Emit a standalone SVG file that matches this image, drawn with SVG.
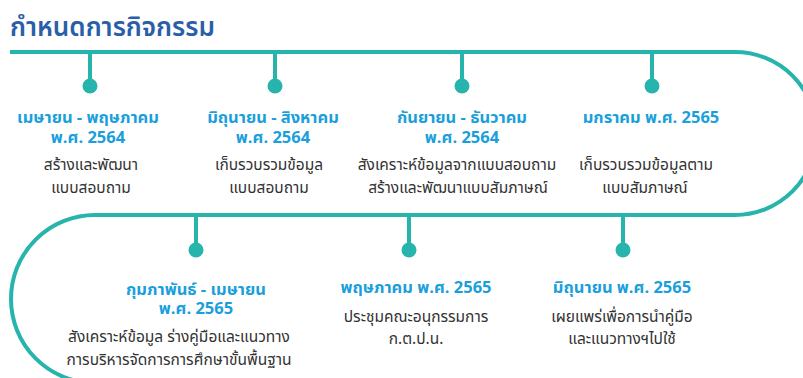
<svg xmlns="http://www.w3.org/2000/svg" width="803" height="378" viewBox="0 0 803 378">
<style>
.ln{fill:none;stroke:#27b4ac;stroke-width:4}
.dot{fill:#27b4ac}
.stem{stroke:#27b4ac;stroke-width:4}
.t{font-family:"Noto Sans Thai","Noto Sans","Liberation Sans",sans-serif;text-anchor:middle}
.d{font-size:16.5px;font-weight:bold;fill:#1a9fdc}
.b{font-size:15.5px;fill:#333333}
.title{font-family:"Noto Sans Thai","Noto Sans","Liberation Sans",sans-serif;font-size:26px;fill:#2b5ea8;font-weight:600}
</style>
<rect width="803" height="378" fill="#ffffff"/>
<text class="title" x="10" y="36">กำหนดการกิจกรรม</text>
<g id="connectors">
<path class="ln" d="M10 52 H735 A81.5 81.5 0 0 1 735 215 H95 A84 84 0 0 0 95 383 H803"/>
</g>
<g id="n1">
<line class="stem" x1="90" y1="52" x2="90" y2="86"/><circle class="dot" cx="90" cy="86" r="7.5"/>
<text class="t d" x="88" y="123">เมษายน - พฤษภาคม<tspan x="88" dy="20">พ.ศ. 2564</tspan></text>
<text class="t b" x="91" y="170">สร้างและพัฒนา<tspan x="91" dy="23">แบบสอบถาม</tspan></text>
</g>
<g id="n2">
<line class="stem" x1="275" y1="52" x2="275" y2="86"/><circle class="dot" cx="275" cy="86" r="7.5"/>
<text class="t d" x="273" y="123">มิถุนายน - สิงหาคม<tspan x="273" dy="20">พ.ศ. 2564</tspan></text>
<text class="t b" x="269" y="170">เก็บรวบรวมข้อมูล<tspan x="269" dy="23">แบบสอบถาม</tspan></text>
</g>
<g id="n3">
<line class="stem" x1="462" y1="52" x2="462" y2="86"/><circle class="dot" cx="462" cy="86" r="7.5"/>
<text class="t d" x="462" y="123">กันยายน - ธันวาคม<tspan x="462" dy="20">พ.ศ. 2564</tspan></text>
<text class="t b" x="457" y="170">สังเคราะห์ข้อมูลจากแบบสอบถาม<tspan x="458" dy="23">สร้างและพัฒนาแบบสัมภาษณ์</tspan></text>
</g>
<g id="n4">
<line class="stem" x1="652" y1="52" x2="652" y2="86"/><circle class="dot" cx="652" cy="86" r="7.5"/>
<text class="t d" x="651" y="123">มกราคม พ.ศ. 2565</text>
<text class="t b" x="646" y="170">เก็บรวบรวมข้อมูลตาม<tspan x="645" dy="23">แบบสัมภาษณ์</tspan></text>
</g>
<g id="n5">
<line class="stem" x1="196" y1="215" x2="196" y2="250"/><circle class="dot" cx="196" cy="250" r="7.5"/>
<text class="t d" x="196" y="295">กุมภาพันธ์ - เมษายน<tspan x="196" dy="19">พ.ศ. 2565</tspan></text>
<text class="t b" x="179" y="342">สังเคราะห์ข้อมูล ร่างคู่มือและแนวทาง<tspan x="179" dy="23">การบริหารจัดการการศึกษาขั้นพื้นฐาน</tspan></text>
</g>
<g id="n6">
<line class="stem" x1="409" y1="215" x2="409" y2="250"/><circle class="dot" cx="409" cy="250" r="7.5"/>
<text class="t d" x="416" y="293">พฤษภาคม พ.ศ. 2565</text>
<text class="t b" x="416" y="322">ประชุมคณะอนุกรรมการ<tspan x="416" dy="22">ก.ต.ป.น.</tspan></text>
</g>
<g id="n7">
<line class="stem" x1="623" y1="215" x2="623" y2="250"/><circle class="dot" cx="623" cy="250" r="7.5"/>
<text class="t d" x="622" y="293">มิถุนายน พ.ศ. 2565</text>
<text class="t b" x="622" y="322">เผยแพร่เพื่อการนำคู่มือ<tspan x="622" dy="22">และแนวทางฯไปใช้</tspan></text>
</g>
</svg>
